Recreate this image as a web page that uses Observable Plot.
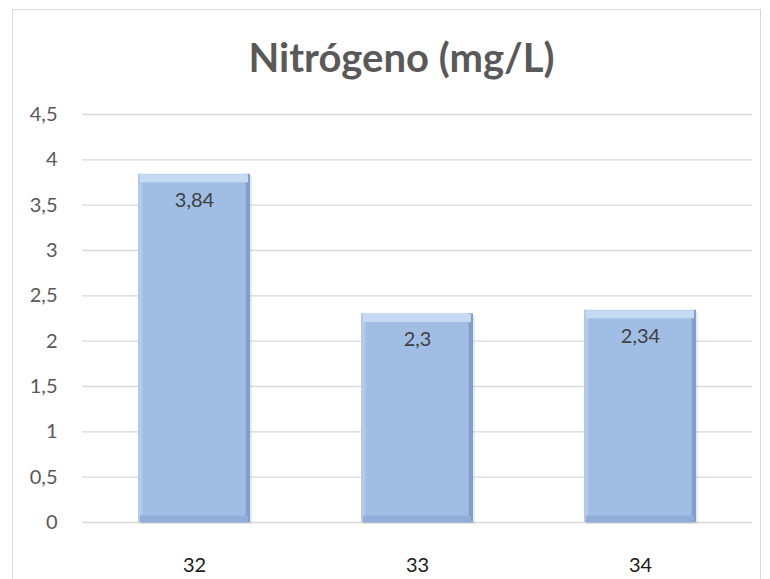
<!DOCTYPE html>
<html><head><meta charset="utf-8">
<script src="https://cdn.jsdelivr.net/npm/d3@7"></script>
<script src="https://cdn.jsdelivr.net/npm/@observablehq/plot@0.6"></script>
<style>
html,body{margin:0;padding:0;background:#fff;overflow:hidden;width:770px;height:579px}
#frame{position:absolute;left:12px;top:9px;width:749px;height:640px;border:1px solid #d9d9d9;box-sizing:border-box}
#chart{position:absolute;left:0;top:0}
</style></head><body>
<div id="frame"></div>
<div id="chart"></div>
<script>
const title = "Nitrógeno (mg/L)";
const categories = ["32", "33", "34"];
const values = [3.84, 2.3, 2.34];
const yTicks = [0, 0.5, 1, 1.5, 2, 2.5, 3, 3.5, 4, 4.5];

const data = categories.map((c, i) => ({cat: c, v: values[i]}));
const fmt = d => String(d).replace(".", ",");
const font = "Lato, Carlito, Calibri, sans-serif";
const band = 670 / 3 * 0.5; // bar width in px
const edge = 4;

const chart = Plot.plot({
  width: 770, height: 579,
  marginLeft: 82, marginRight: 18, marginTop: 114, marginBottom: 57,
  style: {fontFamily: font, background: "transparent", overflow: "visible"},
  x: {domain: categories, paddingInner: 0.5, paddingOuter: 0.25, axis: null},
  y: {domain: [0, 4.5], axis: null},
  marks: [
    Plot.gridY(yTicks, {stroke: "#d9d9d9", strokeOpacity: 1, strokeWidth: 1.3}),
    Plot.axisY(yTicks, {tickSize: 0, tickPadding: 25, tickFormat: fmt, fontSize: 20, fill: "#595959", label: null}),
    Plot.axisX(categories, {tickSize: 0, tickPadding: 35, fontSize: 20, fill: "#1a1a1a", label: null}),
    // soft shadow
    Plot.barY(data, {x: "cat", y: "v", fill: "#000", fillOpacity: 0.08, dx: 2, dy: 2}),
    // main bar
    Plot.barY(data, {x: "cat", y: "v", fill: "#a0bde4"}),
    // bevel edges
    Plot.barY(data, {x: "cat", y: "v", fill: "#b2cbed", insetRight: band - edge}),
    Plot.barY(data, {x: "cat", y: "v", fill: "#819fcb", insetLeft: band - edge}),
    Plot.tickY(data, {x: "cat", y: "v", stroke: "#c6daf3", strokeWidth: 8, dy: 4, insetLeft: 2, insetRight: 2}),
    Plot.tickY(data, {x: "cat", y: 0, stroke: "#91aed9", strokeWidth: 7, dy: -3.5, insetLeft: 2, insetRight: 2}),
    // value labels
    Plot.text(data, {x: "cat", y: "v", text: d => fmt(d.v), dy: 26, fontSize: 20, fill: "#404040"}),
    // title
    Plot.text([title], {frameAnchor: "top", lineAnchor: "middle", dx: -16, dy: -55, text: d => d,
      fontSize: 40, fontWeight: "bold", fill: "#595959"})
  ]
});
document.getElementById("chart").appendChild(chart);
</script>
</body></html>
